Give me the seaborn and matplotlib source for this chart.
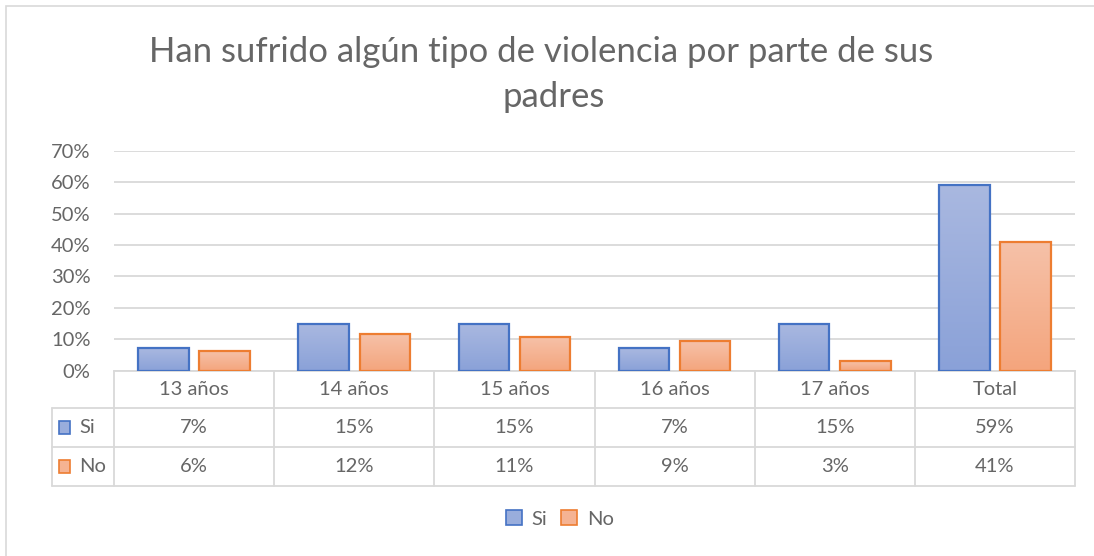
import numpy as np
import pandas as pd
import matplotlib
matplotlib.use("Agg")
import matplotlib.pyplot as plt
import matplotlib.transforms as mtransforms
from matplotlib.patches import Patch, Rectangle
from matplotlib.lines import Line2D
from matplotlib.ticker import PercentFormatter
import seaborn as sns

# data
categories = ["13 años", "14 años", "15 años", "16 años", "17 años", "Total"]
series = ["Si", "No"]
si_values = [7.3, 14.7, 14.7, 7.3, 14.7, 59.0]
no_values = [6.2, 11.6, 10.6, 9.4, 3.1, 41.0]
title_text = "Han sufrido algún tipo de violencia por parte de sus\npadres"

df = pd.DataFrame({
    "edad": categories * 2,
    "serie": ["Si"] * len(categories) + ["No"] * len(categories),
    "valor": np.array(si_values + no_values) / 100,
})

# colours (Excel style)
edge = {"Si": "#4472C4", "No": "#ED7D31"}
grad = {"Si": ("#8AA1D8", "#A9B8E0"), "No": ("#F4A57D", "#F6C1A8")}
mid = {"Si": "#99ADDC", "No": "#F5B393"}
txt = "#666666"
line_c = "#D9D9D9"

W, H = 1094, 556
sns.set_theme(style="white")
plt.rcParams["font.family"] = ["Lato", "DejaVu Sans"]

fig = plt.figure(figsize=(W / 100, H / 100), dpi=100)


def fx(px):
    return px / W


def fy(py):
    return 1 - py / H


# outer chart border
fig.patches.append(Rectangle((fx(6), fy(560)), fx(1100) - fx(6), fy(6) - fy(560),
                             transform=fig.transFigure, fill=False,
                             edgecolor=line_c, lw=1.2))

ax = fig.add_axes([fx(114), fy(370.7), fx(1075) - fx(114), fy(150.7) - fy(370.7)])
sns.barplot(data=df, x="edad", y="valor", hue="serie", hue_order=series,
            palette=mid, width=0.764, gap=0.175, legend=False, ax=ax)

# gradient fill per bar
for name, cont in zip(series, ax.containers):
    c0 = np.array(matplotlib.colors.to_rgb(grad[name][0]))
    c1 = np.array(matplotlib.colors.to_rgb(grad[name][1]))
    g = np.linspace(0, 1, 64)[:, None, None]
    img = c0 * (1 - g) + c1 * g
    for bar in cont:
        x0, y0 = bar.get_x(), bar.get_y()
        w, h = bar.get_width(), bar.get_height()
        ax.imshow(img, extent=[x0, x0 + w, y0, y0 + h], origin="lower",
                  aspect="auto", zorder=2, interpolation="bilinear")
        bar.set_facecolor("none")
        bar.set_edgecolor(edge[name])
        bar.set_linewidth(1.6)
        bar.set_zorder(3)

ax.set_xlim(-0.5, len(categories) - 0.5)
ax.set_ylim(0, 0.70)
ax.set_yticks(np.arange(0, 0.71, 0.1))
ax.yaxis.set_major_formatter(PercentFormatter(1.0, decimals=0))
ax.yaxis.grid(True, color=line_c, lw=1.3)
ax.set_axisbelow(True)
ax.tick_params(axis="y", length=0, pad=17, labelsize=14.5, labelcolor=txt)
ax.set_xticks([])
ax.set_xlabel("")
ax.set_ylabel("")
for s in ["left", "right", "top"]:
    ax.spines[s].set_visible(False)
ax.spines["bottom"].set_color(line_c)
ax.spines["bottom"].set_linewidth(1.3)

# data table under the axes
bt = mtransforms.blended_transform_factory(ax.transData, fig.transFigure)
n = len(categories)
y_top, y_r1, y_r2, y_bot = 370.7, 408.3, 446.7, 485.5
for i in range(n + 1):
    fig.add_artist(Line2D([i - 0.5, i - 0.5], [fy(y_top), fy(y_bot)],
                          transform=bt, color=line_c, lw=1.3))
for yy in [y_r1, y_r2, y_bot]:
    fig.add_artist(Line2D([fx(52), fx(1075)], [fy(yy), fy(yy)],
                          transform=fig.transFigure, color=line_c, lw=1.3))
fig.add_artist(Line2D([fx(52), fx(52)], [fy(y_r1), fy(y_bot)],
                      transform=fig.transFigure, color=line_c, lw=1.3))

for i, cat in enumerate(categories):
    ax.text(i, fy((y_top + y_r1) / 2), cat, transform=bt, ha="center",
            va="center", fontsize=14.5, color=txt)
    ax.text(i, fy((y_r1 + y_r2) / 2), f"{si_values[i]:.0f}%", transform=bt,
            ha="center", va="center", fontsize=14.5, color=txt)
    ax.text(i, fy((y_r2 + y_bot) / 2), f"{no_values[i]:.0f}%", transform=bt,
            ha="center", va="center", fontsize=14.5, color=txt)

for name, (r0, r1) in zip(series, [(y_r1, y_r2), (y_r2, y_bot)]):
    yc = (r0 + r1) / 2
    fig.patches.append(Rectangle((fx(59), fy(yc + 6.5)), fx(11), 13 / H,
                                 transform=fig.transFigure, facecolor=mid[name],
                                 edgecolor=edge[name], lw=1.2))
    fig.text(fx(79), fy(yc), name, ha="left", va="center", fontsize=14.5, color=txt)

# title
lines = title_text.split("\n")
fig.text(fx(541.5), fy(62), lines[0], ha="center", va="baseline",
         fontsize=25, color=txt)
fig.text(fx(554), fy(107), lines[1], ha="center", va="baseline",
         fontsize=25, color=txt)

# legend
handles = [Patch(facecolor=mid[s], edgecolor=edge[s], lw=1.2, label=s) for s in series]
fig.legend(handles=handles, loc="center", bbox_to_anchor=(fx(560), fy(519)),
           ncol=2, frameon=False, fontsize=14.5, labelcolor=txt,
           handlelength=0.75, handleheight=0.75, handletextpad=0.5,
           columnspacing=0.7)

fig.savefig("out.png", dpi=100)
